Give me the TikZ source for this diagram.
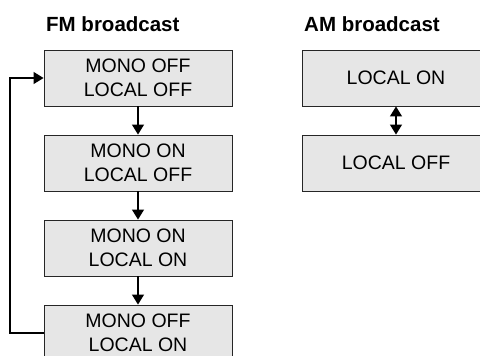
\documentclass[tikz,border=0pt]{standalone}
\usepackage{fontspec}
\setmainfont{Liberation Sans}
\usetikzlibrary{positioning,arrows.meta}
\definecolor{boxgray}{RGB}{230,230,230}

\begin{document}
\begin{tikzpicture}[x=1pt, y=-1pt,
  mode/.style={rectangle, draw=black!85, fill=boxgray, line width=0.9pt,
    minimum width=188pt, minimum height=56pt, inner sep=0pt, align=center,
    font=\fontsize{19.5}{24}\selectfont},
  title/.style={anchor=base west, inner sep=0pt, font=\fontsize{20.5}{24}\selectfont\bfseries},
  flow/.style={line width=1.2pt, -{Triangle[width=12pt,length=10pt]}}]
  \clip (0,0) rectangle (480,356);
  \node[title] (fm) at (46,31) {FM broadcast};
  \node[title] (am) at (304,31) {AM broadcast};
  \node[mode] (fm1) at (138,78)  {MONO OFF\\LOCAL OFF};
  \node[mode] (fm2) at (138,163) {MONO ON\\LOCAL OFF};
  \node[mode] (fm3) at (138,248) {MONO ON\\LOCAL ON};
  \node[mode] (fm4) at (138,333) {MONO OFF\\LOCAL ON};
  \node[mode] (am1) at (396,78)  {LOCAL ON};
  \node[mode] (am2) at (396,163) {LOCAL OFF};
  \draw[flow] (fm1) -- (fm2);
  \draw[flow] (fm2) -- (fm3);
  \draw[flow] (fm3) -- (fm4);
  \draw[flow] (fm4.west) -- (10,333) -- (10,78) -- (fm1.west);
  \draw[flow, {Triangle[width=12pt,length=10pt]}-{Triangle[width=12pt,length=10pt]}] (am1) -- (am2);
\end{tikzpicture}
\end{document}
